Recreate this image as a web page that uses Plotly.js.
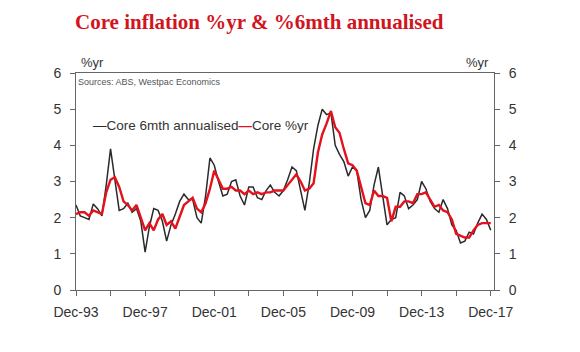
<!DOCTYPE html>
<html>
<head>
<meta charset="utf-8">
<script src="https://cdn.plot.ly/plotly-3.0.1.min.js"></script>
<style>html,body{margin:0;padding:0;background:#fff;}#chart{width:580px;height:352px;}</style>
</head>
<body>
<div id="chart"></div>
<script>
// Quarter dates, Dec-93 to Dec-17
const quarters = [
  "1993-12-01",
  "1994-03-01","1994-06-01","1994-09-01","1994-12-01",
  "1995-03-01","1995-06-01","1995-09-01","1995-12-01",
  "1996-03-01","1996-06-01","1996-09-01","1996-12-01",
  "1997-03-01","1997-06-01","1997-09-01","1997-12-01",
  "1998-03-01","1998-06-01","1998-09-01","1998-12-01",
  "1999-03-01","1999-06-01","1999-09-01","1999-12-01",
  "2000-03-01","2000-06-01","2000-09-01","2000-12-01",
  "2001-03-01","2001-06-01","2001-09-01","2001-12-01",
  "2002-03-01","2002-06-01","2002-09-01","2002-12-01",
  "2003-03-01","2003-06-01","2003-09-01","2003-12-01",
  "2004-03-01","2004-06-01","2004-09-01","2004-12-01",
  "2005-03-01","2005-06-01","2005-09-01","2005-12-01",
  "2006-03-01","2006-06-01","2006-09-01","2006-12-01",
  "2007-03-01","2007-06-01","2007-09-01","2007-12-01",
  "2008-03-01","2008-06-01","2008-09-01","2008-12-01",
  "2009-03-01","2009-06-01","2009-09-01","2009-12-01",
  "2010-03-01","2010-06-01","2010-09-01","2010-12-01",
  "2011-03-01","2011-06-01","2011-09-01","2011-12-01",
  "2012-03-01","2012-06-01","2012-09-01","2012-12-01",
  "2013-03-01","2013-06-01","2013-09-01","2013-12-01",
  "2014-03-01","2014-06-01","2014-09-01","2014-12-01",
  "2015-03-01","2015-06-01","2015-09-01","2015-12-01",
  "2016-03-01","2016-06-01","2016-09-01","2016-12-01",
  "2017-03-01","2017-06-01","2017-09-01","2017-12-01"
];

// Core 6mth annualised (%)
const core6mth = [
  2.35,
  2.05, 2.00, 1.95, 2.38,
  2.25, 2.05, 2.90, 3.90,
  3.10, 2.20, 2.25, 2.40,
  2.15, 2.25, 1.90, 1.05,
  1.75, 2.25, 2.20, 1.90,
  1.35, 1.80, 2.10, 2.45,
  2.65, 2.50, 2.50, 2.00,
  1.85, 2.60, 3.65, 3.45,
  3.00, 2.60, 2.65, 3.00,
  3.05, 2.60, 2.35, 2.85,
  2.85, 2.55, 2.50, 2.75,
  2.90, 2.70, 2.60, 2.75,
  3.05, 3.40, 3.30, 2.70,
  2.20, 2.95, 3.90, 4.55,
  5.00, 4.85, 4.90, 4.00,
  3.75, 3.55, 3.15, 3.40,
  3.30, 2.50, 2.00, 2.20,
  2.90, 3.40, 2.60, 1.80,
  1.95, 2.00, 2.70, 2.60,
  2.25, 2.35, 2.50, 3.00,
  2.80, 2.45, 2.25, 2.15,
  2.50, 2.25, 1.80, 1.65,
  1.30, 1.35, 1.60, 1.55,
  1.85, 2.10, 1.95, 1.65
];

// Core %yr
const coreYr = [
  2.10,
  2.15, 2.15, 2.05, 2.20,
  2.15, 2.10, 2.70, 3.05,
  3.12, 2.85, 2.45, 2.35,
  2.20, 2.35, 2.00, 1.65,
  1.85, 1.65, 1.95, 2.10,
  1.80, 1.90, 1.70, 2.00,
  2.35, 2.45, 2.55, 2.25,
  2.15, 2.40, 2.80, 3.30,
  3.05, 2.80, 2.80, 2.85,
  2.75, 2.75, 2.65, 2.75,
  2.65, 2.70, 2.65, 2.70,
  2.70, 2.75, 2.75, 2.75,
  2.90, 3.05, 3.20, 3.00,
  2.75, 2.80, 2.95, 3.80,
  4.30, 4.60, 4.95, 4.50,
  4.35, 3.90, 3.50, 3.45,
  3.30, 2.85, 2.40, 2.35,
  2.75, 2.60, 2.60, 2.55,
  1.90, 2.30, 2.30, 2.45,
  2.45, 2.40, 2.65, 2.65,
  2.70, 2.50, 2.30, 2.35,
  2.20, 2.15, 1.95, 1.55,
  1.50, 1.45, 1.45, 1.65,
  1.80, 1.85, 1.85, 1.85
];

// Axis ticks
const xTickVals = ["1993-12-01","1995-12-01","1997-12-01","1999-12-01","2001-12-01","2003-12-01",
  "2005-12-01","2007-12-01","2009-12-01","2011-12-01","2013-12-01","2015-12-01","2017-12-01"];
const xTickText = ["Dec-93","","Dec-97","","Dec-01","","Dec-05","","Dec-09","","Dec-13","","Dec-17"];
const yTickVals = [0,1,2,3,4,5,6];

const tickFont = {family: "Liberation Sans, Arial, sans-serif", size: 14, color: "#333"};
const axisColor = "#666";

const traces = [
  {
    x: quarters, y: core6mth, type: "scatter", mode: "lines",
    name: "Core 6mth annualised",
    line: {color: "#2a2a2a", width: 1.5},
    showlegend: false, hoverinfo: "x+y"
  },
  {
    x: quarters, y: coreYr, type: "scatter", mode: "lines",
    name: "Core %yr",
    line: {color: "#e3121c", width: 2.4},
    showlegend: false, hoverinfo: "x+y"
  },
  {
    x: quarters, y: coreYr, type: "scatter", mode: "lines",
    yaxis: "y2", opacity: 0, showlegend: false, hoverinfo: "skip",
    line: {width: 0}
  }
];

const layout = {
  width: 580, height: 352,
  margin: {l: 76, r: 86, t: 73, b: 62},
  paper_bgcolor: "#fff", plot_bgcolor: "#fff",
  showlegend: false,
  title: {
    text: "Core inflation %yr & %6mth annualised",
    font: {family: "Liberation Serif, Times New Roman, serif", size: 21, color: "#d2141e", weight: 700},
    x: 75/580, xanchor: "left", xref: "container",
    y: 1 - 22/352, yanchor: "middle", yref: "container"
  },
  xaxis: {
    type: "date",
    range: ["1993-12-01", "2018-02-08"],
    tickmode: "array", tickvals: xTickVals, ticktext: xTickText,
    ticks: "outside", ticklen: 5, tickwidth: 1, tickcolor: axisColor,
    showline: true, linecolor: axisColor, linewidth: 1, mirror: true,
    showgrid: false, zeroline: false,
    tickfont: tickFont, ticklabelstandoff: 4
  },
  yaxis: {
    range: [0, 6], tickmode: "array", tickvals: yTickVals,
    ticks: "outside", ticklen: 5, tickwidth: 1, tickcolor: axisColor,
    showline: true, linecolor: axisColor, linewidth: 1, mirror: true,
    showgrid: false, zeroline: false,
    tickfont: tickFont, ticklabelstandoff: 6
  },
  yaxis2: {
    overlaying: "y", side: "right",
    range: [0, 6], tickmode: "array", tickvals: yTickVals,
    ticks: "outside", ticklen: 5, tickwidth: 1, tickcolor: axisColor,
    showline: true, linecolor: axisColor, linewidth: 1,
    showgrid: false, zeroline: false,
    tickfont: tickFont, ticklabelstandoff: 6
  },
  annotations: [
    {
      text: "%yr", xref: "paper", yref: "paper", x: 0, y: 1,
      xanchor: "left", yanchor: "bottom", xshift: 3, yshift: 1,
      showarrow: false, font: {family: "Liberation Sans, Arial, sans-serif", size: 13, color: "#333"}
    },
    {
      text: "%yr", xref: "paper", yref: "paper", x: 1, y: 1,
      xanchor: "right", yanchor: "bottom", xshift: -3, yshift: 1,
      showarrow: false, font: {family: "Liberation Sans, Arial, sans-serif", size: 13, color: "#333"}
    },
    {
      text: "Sources: ABS, Westpac Economics", xref: "paper", yref: "paper", x: 0, y: 1,
      xanchor: "left", yanchor: "top", xshift: 0, yshift: -2,
      showarrow: false, font: {family: "Liberation Sans, Arial, sans-serif", size: 9, color: "#555"}
    },
    {
      text: "<span style='color:#2a2a2a'>—</span>Core 6mth annualised<span style='color:#e3121c'><b>—</b></span>Core %yr",
      xref: "paper", yref: "paper", x: (91 - 76) / 418, y: 1 - (125 - 73) / 217,
      xanchor: "left", yanchor: "middle",
      showarrow: false, font: {family: "Liberation Sans, Arial, sans-serif", size: 13.5, color: "#333"}
    }
  ]
};

Plotly.newPlot("chart", traces, layout, {displayModeBar: false, staticPlot: true});
</script>
</body>
</html>
